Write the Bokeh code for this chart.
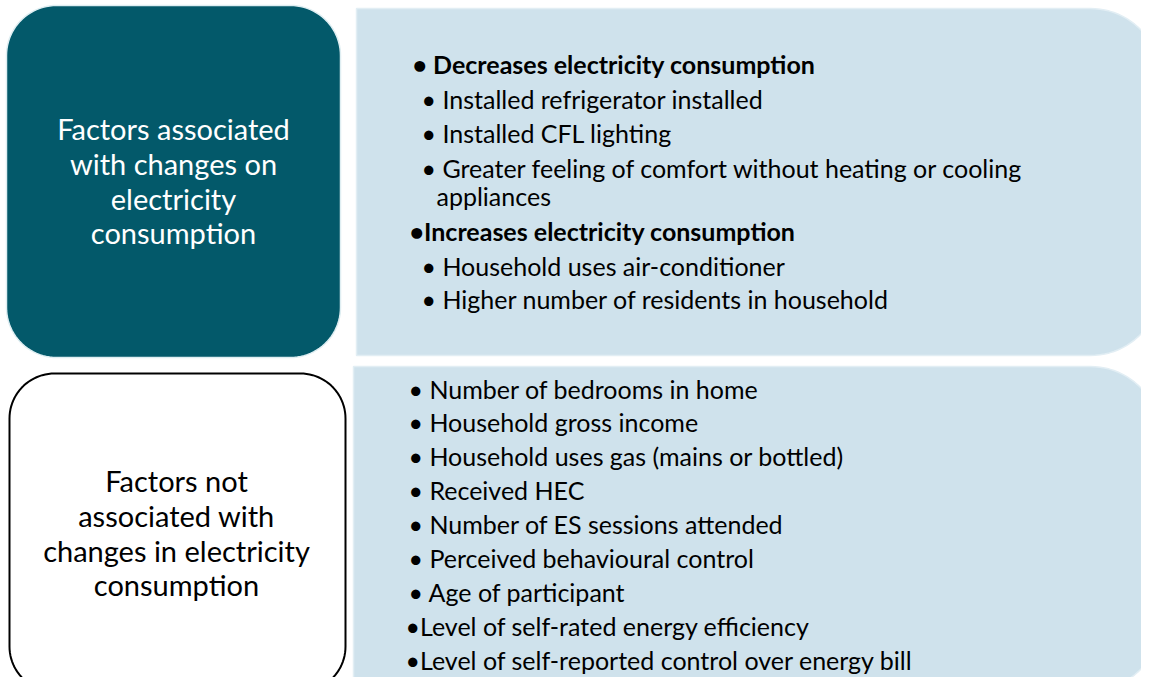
import numpy as np
from bokeh.plotting import figure
from bokeh.models import Range1d
from bokeh.core.properties import value
from bokeh.embed import file_html
from bokeh.resources import INLINE

# ---- content ----
left_top_lines = ["Factors associated", "with changes on", "electricity", "consumption"]
left_bottom_lines = ["Factors not", "associated with", "changes in electricity", "consumption"]

top_items = [
    "• Decreases electricity consumption",
    "• Installed refrigerator installed",
    "• Installed CFL lighting",
    "• Greater feeling of comfort without heating or cooling",
    "appliances",
    "•Increases electricity consumption",
    "• Household uses air-conditioner",
    "• Higher number of residents in household",
]
top_kinds = ["head", "item", "item", "item", "cont", "head2", "item", "item"]

bottom_items = [
    "• Number of bedrooms in home",
    "• Household gross income",
    "• Household uses gas (mains or bottled)",
    "• Received HEC",
    "• Number of ES sessions attended",
    "• Perceived behavioural control",
    "• Age of participant",
    "•Level of self-rated energy efficiency",
    "•Level of self-reported control over energy bill",
]
bottom_kinds = ["item"] * 7 + ["item2"] * 2

# ---- styling / layout ----
FONT = "Lato"
TEAL = "#03596A"
LIGHT = "#CFE2EC"
W, H = 1141, 677

p = figure(width=W, height=H, output_backend="svg", toolbar_location=None,
           x_range=Range1d(0, W), y_range=Range1d(H, 0),
           min_border=0, outline_line_color=None, background_fill_color="white")
p.axis.visible = False
p.grid.visible = False


def rounded_rect(x0, y0, x1, y1, rtl, rtr, rbr, rbl, n=24):
    xs, ys = [], []

    def corner(cx, cy, r, a0, a1, px, py):
        if r <= 0:
            xs.append(px); ys.append(py); return
        t = np.linspace(a0, a1, n)
        xs.extend(cx + r * np.cos(t)); ys.extend(cy + r * np.sin(t))
    corner(x0 + rtl, y0 + rtl, rtl, np.pi, 1.5 * np.pi, x0, y0)
    corner(x1 - rtr, y0 + rtr, rtr, 1.5 * np.pi, 2 * np.pi, x1, y0)
    corner(x1 - rbr, y1 - rbr, rbr, 0, 0.5 * np.pi, x1, y1)
    corner(x0 + rbl, y1 - rbl, rbl, 0.5 * np.pi, np.pi, x0, y1)
    return list(xs), list(ys)

# boxes
bx, by = rounded_rect(6, 5, 340, 357, 50, 50, 50, 50)
p.patch(bx, by, fill_color=TEAL, line_color="#dfeef2", line_width=1.5)

bx, by = rounded_rect(356, 8, 1160, 355, 0, 70, 70, 0)
p.patch(bx, by, fill_color=LIGHT, line_color="#e2eef4", line_width=1.5)

bx, by = rounded_rect(353, 366, 1160, 690, 0, 70, 70, 0)
p.patch(bx, by, fill_color=LIGHT, line_color="#e2eef4", line_width=1.5)

bx, by = rounded_rect(9, 373, 345, 691, 45, 45, 45, 45)
p.patch(bx, by, fill_color="white", line_color="black", line_width=2)

# left texts
spacing_left = 34.8
p.text(x=[173] * len(left_top_lines),
       y=[128 + i * spacing_left for i in range(len(left_top_lines))],
       text=left_top_lines, text_font=value(FONT), text_font_size="29px",
       text_color="white", text_align="center", text_baseline="middle")
p.text(x=[176] * len(left_bottom_lines),
       y=[480 + i * spacing_left for i in range(len(left_bottom_lines))],
       text=left_bottom_lines, text_font=value(FONT), text_font_size="29px",
       text_color="black", text_align="center", text_baseline="middle")

# right top texts
x_by_kind = {"head": 412, "head2": 409, "item": 421, "cont": 436}
top_y = [63, 98, 132, 167, 195, 230, 265, 298]
for t, k, yy in zip(top_items, top_kinds, top_y):
    p.text(x=[x_by_kind[k]], y=[yy], text=[t], text_font=value(FONT),
           text_font_size="25px", text_color="black", text_align="left",
           text_baseline="middle",
           text_font_style="bold" if k.startswith("head") else "normal")

# right bottom texts
xb = {"item": 408, "item2": 405}
for i, (t, k) in enumerate(zip(bottom_items, bottom_kinds)):
    p.text(x=[xb[k]], y=[388 + i * 33.9], text=[t], text_font=value(FONT),
           text_font_size="25px", text_color="black", text_align="left",
           text_baseline="middle")

open("out.html", "w").write(file_html(p, INLINE))
